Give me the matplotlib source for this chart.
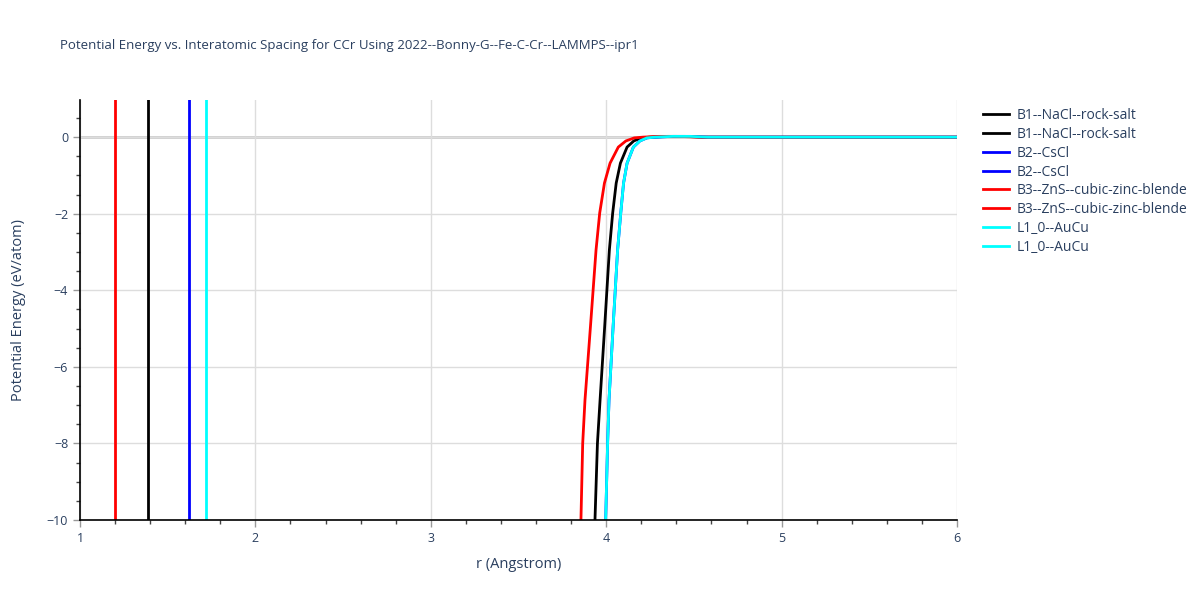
import matplotlib
matplotlib.use("Agg")
import matplotlib.pyplot as plt
from matplotlib.ticker import MultipleLocator

TITLE = "Potential Energy vs. Interatomic Spacing for CCr Using 2022--Bonny-G--Fe-C-Cr--LAMMPS--ipr1"

# repulsive wall positions (vertical segments) per structure
wall_r = {"B1": 1.385, "B2": 1.62, "B3": 1.20, "L1_0": 1.72}
wall_E = [-100.0, 100.0]

# binding curves
E_pts = [-14.0, -10.0, -8.0, -6.87, -4.9, -2.95, -1.98, -1.2, -0.68, -0.26, -0.1, -0.02, 0.0, 0.02, 0.02, 0.0, 0.0]
r_b1 = [3.915, 3.936, 3.950, 3.965, 3.992, 4.018, 4.037, 4.057, 4.081, 4.119, 4.157, 4.200, 4.250, 4.35, 4.45, 4.55, 6.0]
r_b3 = [3.835, 3.856, 3.866, 3.879, 3.911, 3.942, 3.963, 3.990, 4.022, 4.069, 4.112, 4.160, 4.210, 4.30, 4.40, 4.55, 6.0]
r_l10 = [3.980, 3.997, 4.008, 4.016, 4.040, 4.065, 4.083, 4.099, 4.119, 4.155, 4.192, 4.232, 4.280, 4.38, 4.48, 4.58, 6.0]
r_b2 = r_l10

series = [
    ("B1--NaCl--rock-salt", "black", "B1", r_b1),
    ("B2--CsCl", "blue", "B2", r_b2),
    ("B3--ZnS--cubic-zinc-blende", "red", "B3", r_b3),
    ("L1_0--AuCu", "cyan", "L1_0", r_l10),
]

TXT = "#2a3f5f"
plt.rcParams["font.family"] = ["Open Sans", "DejaVu Sans"]

fig = plt.figure(figsize=(12, 6), dpi=100)
ax = fig.add_axes([80 / 1200, 80 / 600, 877 / 1200, 420 / 600])

for name, col, key, r in series:
    ax.plot([wall_r[key]] * 2, wall_E, color=col, lw=2, label=name)
    ax.plot(r, E_pts, color=col, lw=2, label=name)

ax.set_xlim(1, 6)
ax.set_ylim(-10, 0.97)
ax.xaxis.set_major_locator(MultipleLocator(1))
ax.xaxis.set_minor_locator(MultipleLocator(0.2))
ax.yaxis.set_major_locator(MultipleLocator(2))
ax.yaxis.set_minor_locator(MultipleLocator(0.5))
ax.grid(True, which="major", color="#dddddd", lw=1)
ax.axhline(0, color="#cccccc", lw=2, zorder=0.5)
ax.set_axisbelow(True)
for s in ("top", "right"):
    ax.spines[s].set_visible(False)
for s in ("left", "bottom"):
    ax.spines[s].set_color("black")
    ax.spines[s].set_linewidth(1.2)
ax.tick_params(which="major", length=5, width=1, color="#999999", labelsize=9, labelcolor=TXT)
ax.tick_params(which="minor", length=3, width=1, color="#444444")
ax.set_yticklabels([f"\u2212{-int(v)}" if v < 0 else f"{int(v)}" for v in ax.get_yticks()])
ax.set_xlabel("r (Angstrom)", fontsize=10.5, color=TXT, labelpad=9)
ax.set_ylabel("Potential Energy (eV/atom)", fontsize=10.5, color=TXT, labelpad=15)

fig.text(60 / 1200, 1 - 45 / 600, TITLE, fontsize=9.5, color=TXT, va="center")

leg = ax.legend(loc="upper left", bbox_to_anchor=(1.015, 1.01), frameon=False,
                fontsize=10, labelcolor=TXT, handlelength=1.9, handletextpad=0.55,
                labelspacing=0.27)

fig.savefig("out.png", dpi=100)
